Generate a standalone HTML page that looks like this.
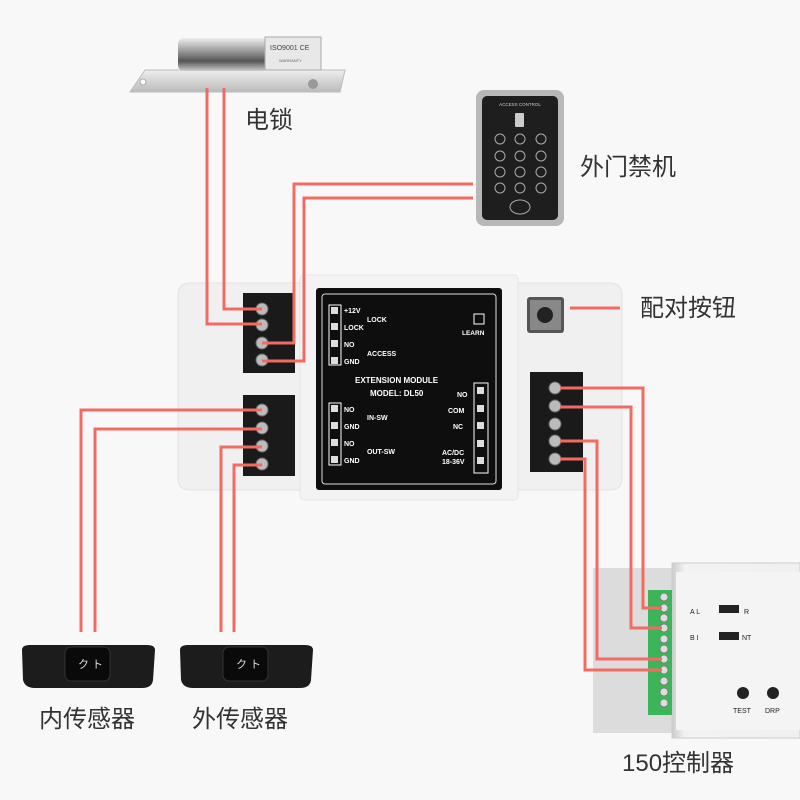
<!DOCTYPE html>
<html><head><meta charset="utf-8"><style>
html,body{margin:0;padding:0;background:#f8f8f8;}
svg{display:block}
text{font-family:"Liberation Sans","Noto Sans CJK SC",sans-serif;}
</style></head><body>
<svg width="800" height="800" viewBox="0 0 800 800" xmlns="http://www.w3.org/2000/svg">
<defs>
<linearGradient id="cyl" x1="0" y1="0" x2="0" y2="1"><stop offset="0" stop-color="#eee"/><stop offset=".4" stop-color="#999"/><stop offset=".7" stop-color="#555"/><stop offset="1" stop-color="#ccc"/></linearGradient>
<linearGradient id="plate" x1="0" y1="0" x2="0" y2="1"><stop offset="0" stop-color="#eee"/><stop offset="1" stop-color="#bbb"/></linearGradient>
<linearGradient id="alu" x1="0" y1="0" x2="1" y2="0"><stop offset="0" stop-color="#ccc"/><stop offset=".1" stop-color="#f2f2f2"/><stop offset="1" stop-color="#f0f0f0"/></linearGradient>
</defs>
<rect width="800" height="800" fill="#f8f8f8"/>

<!-- lock -->
<polygon points="145,70 345,70 340,92 130,92" fill="url(#plate)" stroke="#bbb"/>
<rect x="178" y="38" width="90" height="33" rx="6" fill="url(#cyl)"/>
<rect x="265" y="37" width="56" height="33" fill="#e8e8e8" stroke="#aaa"/>
<text x="270" y="50" font-size="7" fill="#444">ISO9001 CE</text>
<text x="279" y="62" font-size="4" fill="#666">WARRANTY</text>
<circle cx="313" cy="84" r="5" fill="#999"/>
<circle cx="143" cy="82" r="3" fill="#fff" stroke="#aaa"/>

<!-- keypad -->
<rect x="476" y="90" width="88" height="136" rx="8" fill="#b8b8b8"/>
<rect x="482" y="96" width="76" height="124" rx="5" fill="#1e1e1e"/>
<text x="520" y="106" font-size="4.5" fill="#ccc" text-anchor="middle">ACCESS CONTROL</text>
<rect x="515" y="113" width="9" height="14" rx="1" fill="#ccc"/>
<g fill="none" stroke="#aaa" stroke-width="1">
<circle cx="500" cy="139" r="5"/><circle cx="520" cy="139" r="5"/><circle cx="541" cy="139" r="5"/>
<circle cx="500" cy="156" r="5"/><circle cx="520" cy="156" r="5"/><circle cx="541" cy="156" r="5"/>
<circle cx="500" cy="172" r="5"/><circle cx="520" cy="172" r="5"/><circle cx="541" cy="172" r="5"/>
<circle cx="500" cy="188" r="5"/><circle cx="520" cy="188" r="5"/><circle cx="541" cy="188" r="5"/>
<ellipse cx="520" cy="207" rx="10" ry="7"/>
</g>

<!-- module housing -->
<path d="M190,283 H610 Q622,283 622,296 V478 Q622,490 610,490 H190 Q178,490 178,478 V296 Q178,283 190,283Z" fill="#f0f0f0" stroke="#e2e2e2"/>
<rect x="300" y="275" width="218" height="225" rx="4" fill="#f3f3f3" stroke="#e5e5e5"/>
<rect x="316" y="288" width="186" height="202" rx="3" fill="#0e0e0e"/>
<rect x="322" y="294" width="174" height="190" rx="3" fill="none" stroke="#ddd" stroke-width="1"/>
<g fill="#fff" font-size="7" font-weight="bold">
<text x="344" y="313">+12V</text><text x="344" y="330">LOCK</text><text x="367" y="322">LOCK</text>
<text x="344" y="347">NO</text><text x="344" y="364">GND</text><text x="367" y="356">ACCESS</text>
<text x="344" y="412">NO</text><text x="344" y="429">GND</text><text x="367" y="420">IN-SW</text>
<text x="344" y="446">NO</text><text x="344" y="463">GND</text><text x="367" y="454">OUT-SW</text>
<text x="355" y="383" font-size="8">EXTENSION MODULE</text>
<text x="370" y="396" font-size="8">MODEL:  DL50</text>
<text x="457" y="397">NO</text><text x="448" y="413">COM</text><text x="453" y="429">NC</text>
<text x="442" y="455">AC/DC</text><text x="442" y="464">18-36V</text>
<text x="462" y="335" font-size="6.5">LEARN</text>
</g>
<g fill="none" stroke="#fff" stroke-width="1">
<rect x="329" y="305" width="12" height="60"/><rect x="329" y="403" width="12" height="62"/>
<rect x="474" y="383" width="14" height="90"/><rect x="474" y="314" width="10" height="10"/>
</g>
<g fill="#ddd">
<rect x="331" y="307" width="7" height="7"/><rect x="331" y="323" width="7" height="7"/><rect x="331" y="340" width="7" height="7"/><rect x="331" y="357" width="7" height="7"/>
<rect x="331" y="405" width="7" height="7"/><rect x="331" y="422" width="7" height="7"/><rect x="331" y="439" width="7" height="7"/><rect x="331" y="456" width="7" height="7"/>
<rect x="477" y="387" width="7" height="7"/><rect x="477" y="405" width="7" height="7"/><rect x="477" y="422" width="7" height="7"/><rect x="477" y="440" width="7" height="7"/><rect x="477" y="457" width="7" height="7"/>
</g>

<!-- terminal blocks -->
<g fill="#1a1a1a">
<rect x="243" y="293" width="52" height="80"/><rect x="243" y="395" width="52" height="81"/><rect x="530" y="372" width="53" height="100"/>
</g>
<g fill="#bbb" stroke="#666" stroke-width="1">
<circle cx="262" cy="309" r="6"/><circle cx="262" cy="325" r="6"/><circle cx="262" cy="343" r="6"/><circle cx="262" cy="360" r="6"/>
<circle cx="262" cy="410" r="6"/><circle cx="262" cy="428" r="6"/><circle cx="262" cy="446" r="6"/><circle cx="262" cy="464" r="6"/>
<circle cx="555" cy="388" r="6"/><circle cx="555" cy="406" r="6"/><circle cx="555" cy="424" r="6"/><circle cx="555" cy="441" r="6"/><circle cx="555" cy="459" r="6"/>
</g>
<rect x="527" y="297" width="37" height="36" rx="3" fill="#555"/>
<rect x="530" y="300" width="31" height="30" fill="#888"/>
<circle cx="545" cy="315" r="8" fill="#222"/>

<!-- controller -->
<rect x="593" y="568" width="90" height="165" fill="#dcdcdc"/>
<rect x="672" y="563" width="128" height="175" fill="url(#alu)" stroke="#ccc"/>
<rect x="676" y="572" width="124" height="158" fill="#f4f4f4"/>
<rect x="648" y="590" width="24" height="125" fill="#3cb55a"/>
<g fill="#ddd" stroke="#777" stroke-width=".8">
<circle cx="664" cy="597" r="4"/><circle cx="664" cy="608" r="4"/><circle cx="664" cy="618" r="4"/><circle cx="664" cy="628" r="4"/><circle cx="664" cy="639" r="4"/><circle cx="664" cy="649" r="4"/><circle cx="664" cy="659" r="4"/><circle cx="664" cy="670" r="4"/><circle cx="664" cy="681" r="4"/><circle cx="664" cy="692" r="4"/><circle cx="664" cy="703" r="4"/>
</g>
<g font-size="7" fill="#222">
<text x="690" y="614">A   L</text><text x="744" y="614">R</text>
<text x="690" y="640">B   I</text><text x="742" y="640">NT</text>
<text x="733" y="713">TEST</text><text x="765" y="713">DRP</text>
</g>
<rect x="719" y="605" width="20" height="8" fill="#222"/><rect x="719" y="632" width="20" height="8" fill="#222"/>
<circle cx="743" cy="693" r="6" fill="#222"/><circle cx="773" cy="693" r="6" fill="#222"/>

<!-- sensors -->
<path d="M22,650 Q22,645 30,645 H147 Q155,645 155,650 L153,680 Q152,688 142,688 H35 Q25,688 23,680Z" fill="#1c1c1c"/>
<rect x="65" y="647" width="45" height="34" rx="6" fill="#0a0a0a" stroke="#333"/>
<text x="78" y="668" font-size="11" fill="#ddd" font-family="Noto Sans CJK JP,sans-serif">ク ト</text>
<path d="M180,650 Q180,645 188,645 H305 Q313,645 313,650 L311,680 Q310,688 300,688 H193 Q183,688 181,680Z" fill="#1c1c1c"/>
<rect x="223" y="647" width="45" height="34" rx="6" fill="#0a0a0a" stroke="#333"/>
<text x="236" y="668" font-size="11" fill="#ddd" font-family="Noto Sans CJK JP,sans-serif">ク ト</text>

<!-- wires -->
<g fill="none" stroke="#f26b63" stroke-width="3">
<polyline points="224,88 224,309 262,309"/>
<polyline points="207,88 207,324 262,324"/>
<polyline points="473,184 294,184 294,343 262,343"/>
<polyline points="473,198 304,198 304,361 262,361"/>
<polyline points="262,410 81,410 81,632"/>
<polyline points="262,429 95,429 95,632"/>
<polyline points="262,447 221,447 221,632"/>
<polyline points="262,465 234,465 234,632"/>
<polyline points="560,388 643,388 643,608 662,608"/>
<polyline points="560,407 631,407 631,628 662,628"/>
<polyline points="560,441 597,441 597,659 662,659"/>
<polyline points="560,459 585,459 585,670 662,670"/>
<line x1="570" y1="308" x2="620" y2="308"/>
</g>

<!-- labels -->
<g fill="#333" font-size="24">
<text x="245" y="128">电锁</text>
<text x="580" y="175">外门禁机</text>
<text x="640" y="316">配对按钮</text>
<text x="39" y="727">内传感器</text>
<text x="192" y="727">外传感器</text>
<text x="622" y="771">150控制器</text>
</g>
</svg>
</body></html>
